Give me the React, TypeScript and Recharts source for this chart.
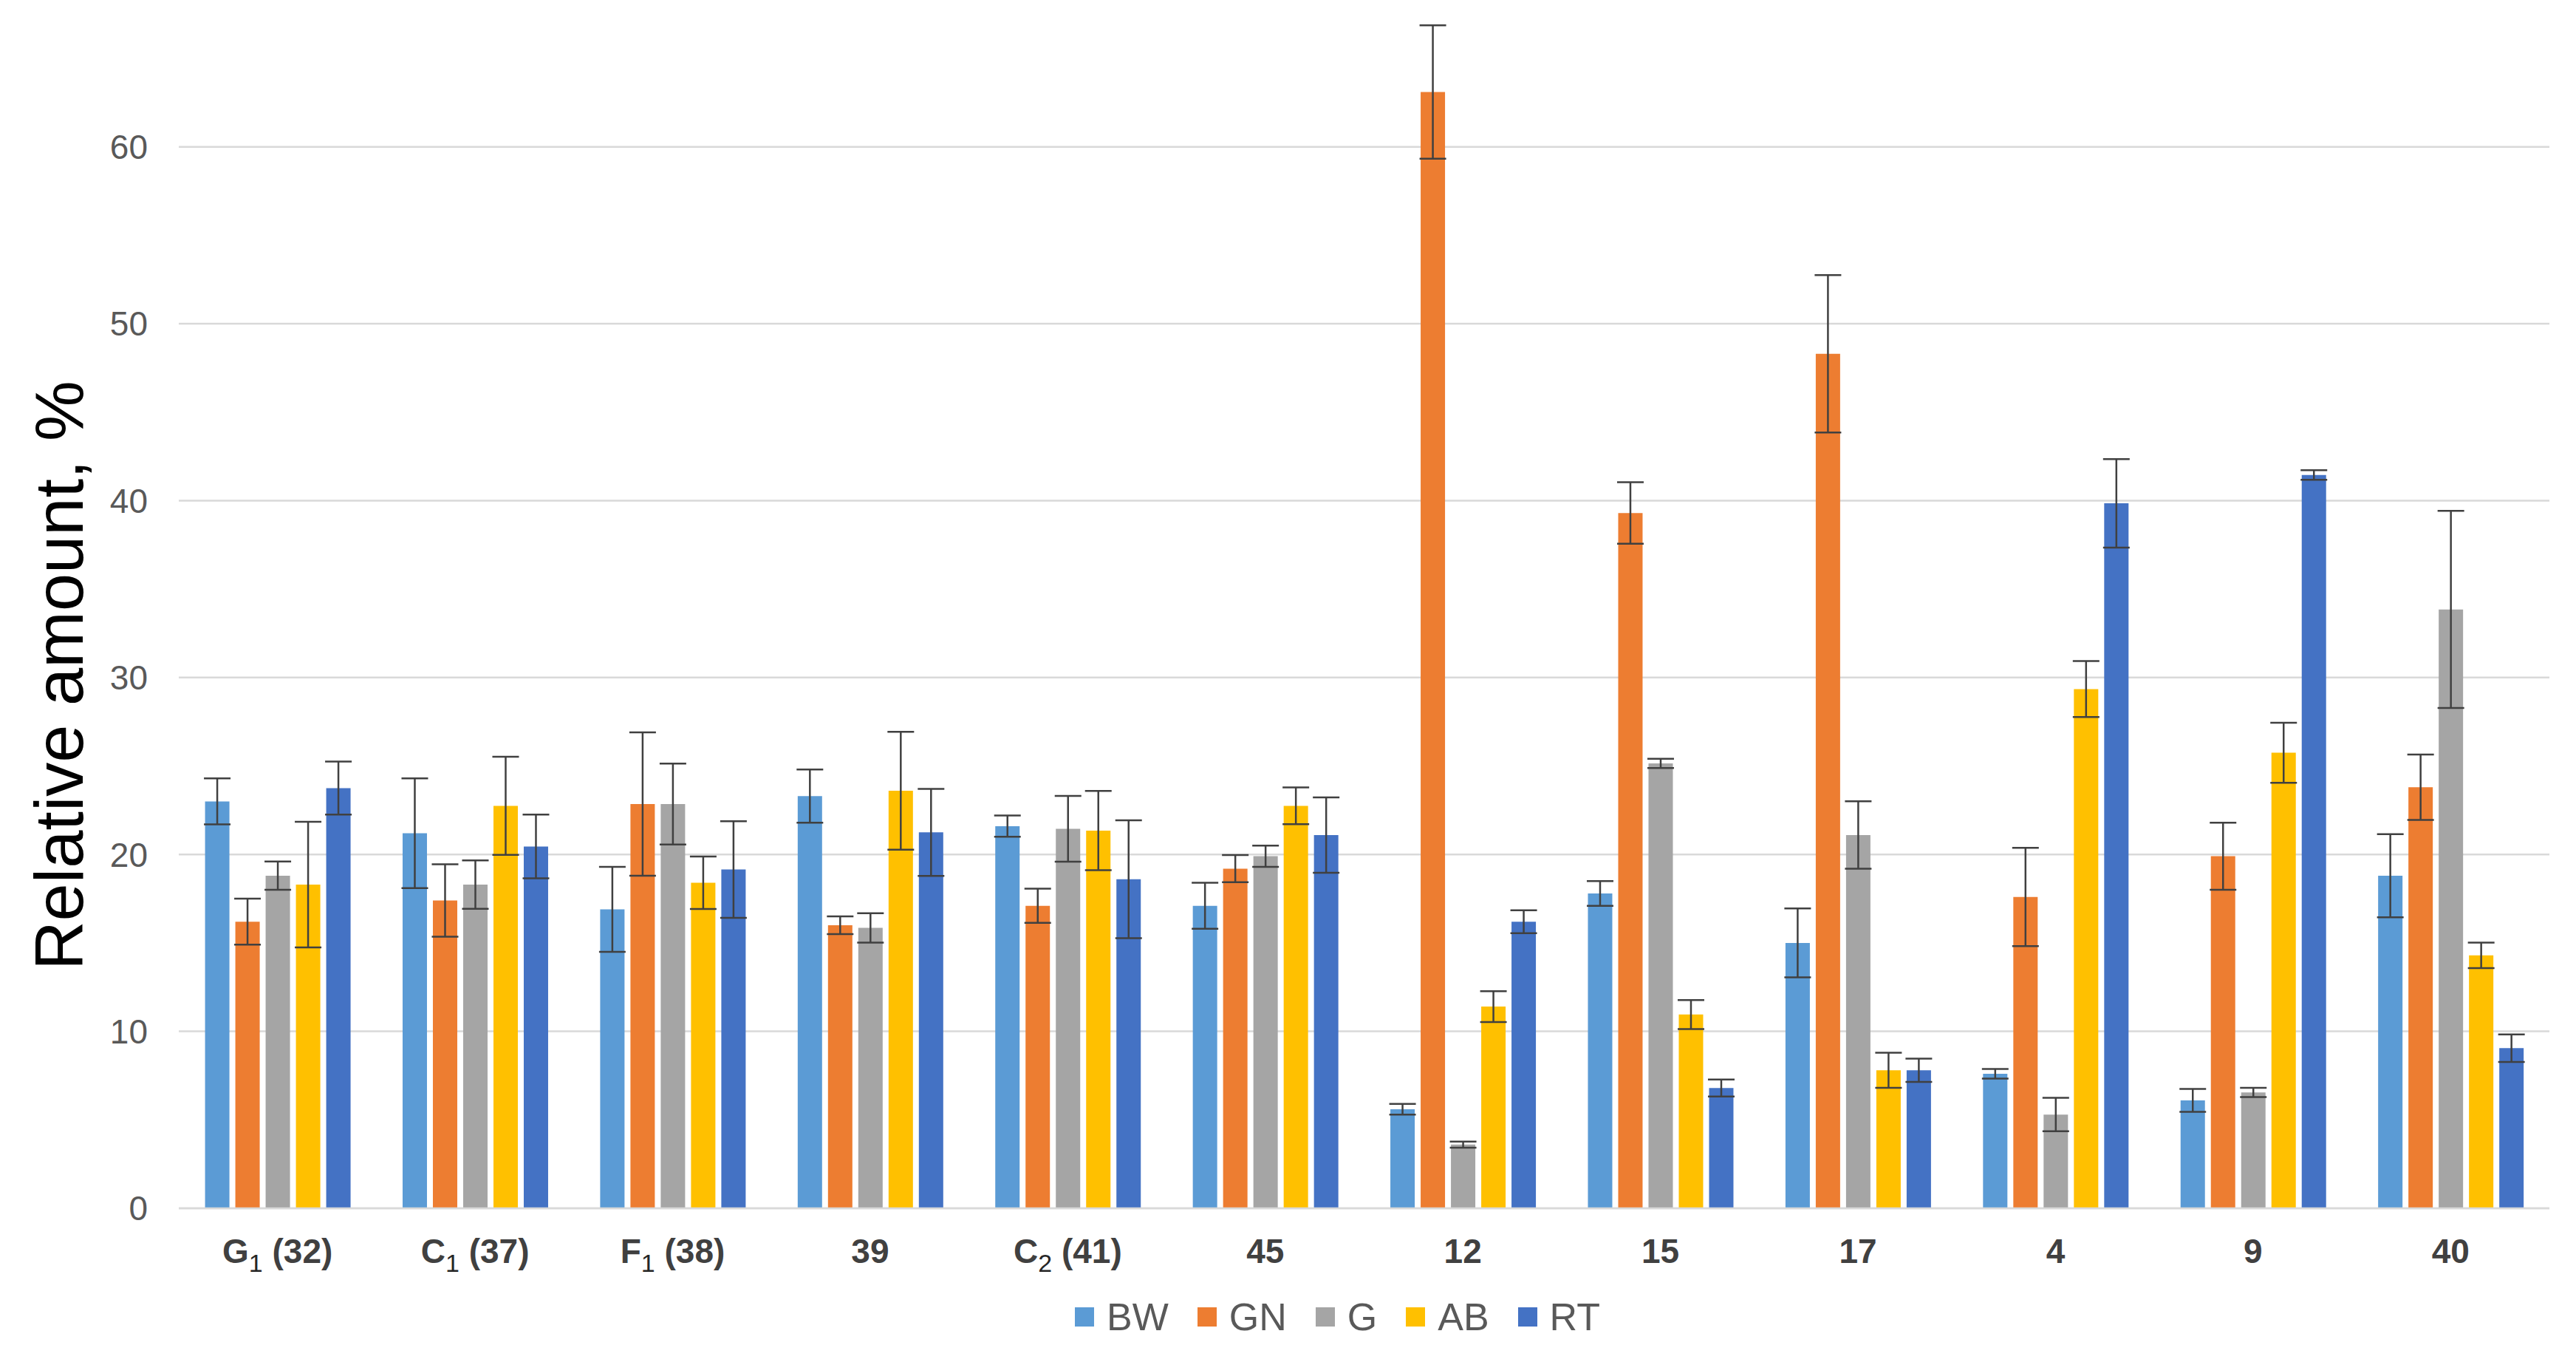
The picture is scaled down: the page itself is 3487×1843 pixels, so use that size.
import React from 'react';
import {
    BarChart,
    Bar,
    XAxis,
    YAxis,
    CartesianGrid,
    ErrorBar,
    Legend
} from "recharts"

// category labels, "_" marks a subscript
const categories = ['G_1 (32)', 'C_1 (37)', 'F_1 (38)', '39', 'C_2 (41)', '45', '12', '15', '17', '4', '9', '40'];

const BW = [23.0, 21.2, 16.9, 23.3, 21.6, 17.1, 5.6, 17.8, 15.0, 7.6, 6.1, 18.8];
const BW_err = [1.3, 3.1, 2.4, 1.5, 0.6, 1.3, 0.3, 0.7, 1.95, 0.27, 0.65, 2.35];
const GN = [16.2, 17.4, 22.85, 16.0, 17.1, 19.2, 63.1, 39.3, 48.3, 17.6, 19.9, 23.8];
const GN_err = [1.3, 2.05, 4.05, 0.5, 0.97, 0.77, 3.77, 1.74, 4.45, 2.78, 1.9, 1.85];
const G = [18.8, 18.3, 22.85, 15.85, 21.45, 19.9, 3.6, 25.15, 21.1, 5.3, 6.55, 33.85];
const G_err = [0.8, 1.37, 2.29, 0.83, 1.86, 0.6, 0.17, 0.26, 1.91, 0.95, 0.26, 5.57];
const AB = [18.3, 22.75, 18.4, 23.6, 21.35, 22.75, 11.4, 10.95, 7.8, 29.35, 25.75, 14.3];
const AB_err = [3.55, 2.77, 1.48, 3.33, 2.24, 1.04, 0.87, 0.82, 0.99, 1.58, 1.7, 0.72];
const RT = [23.75, 20.45, 19.15, 21.25, 18.6, 21.1, 16.2, 6.8, 7.8, 39.85, 41.45, 9.05];
const RT_err = [1.5, 1.8, 2.73, 2.46, 3.33, 2.13, 0.65, 0.48, 0.66, 2.5, 0.27, 0.78];

const yTicks = [0, 10, 20, 30, 40, 50, 60];

const series = [
    { key: 'BW', color: '#5B9BD5' },
    { key: 'GN', color: '#ED7D31' },
    { key: 'G', color: '#A5A5A5' },
    { key: 'AB', color: '#FFC000' },
    { key: 'RT', color: '#4472C4' },
];

const data = categories.map((name, i) => ({
    name,
    BW: BW[i], BW_err: BW_err[i],
    GN: GN[i], GN_err: GN_err[i],
    G: G[i], G_err: G_err[i],
    AB: AB[i], AB_err: AB_err[i],
    RT: RT[i], RT_err: RT_err[i],
}));

const FONT = '"Liberation Sans", Arial, sans-serif';

const CategoryTick = (props: any) => {
    const { x, y, payload } = props;
    const label: string = payload.value;
    const m = label.match(/^(.*)_(\S+)(.*)$/);
    const baseY = y + 34;
    if (!m) {
        return (
            <text x={x} y={baseY} textAnchor="middle" fontFamily={FONT} fontSize={46} fontWeight="bold" fill="#404040">
                {label}
            </text>
        );
    }
    return (
        <text x={x} y={baseY} textAnchor="middle" fontFamily={FONT} fontSize={46} fontWeight="bold" fill="#404040">
            <tspan>{m[1]}</tspan>
            <tspan fontSize={34} fontWeight="normal" fill="#262626" dy={12}>{m[2]}</tspan>
            <tspan dy={-12}>{m[3]}</tspan>
        </text>
    );
};

const YTitle = () => {
    const cx = 80;
    const cy = 914;
    return (
        <text x={cx} y={cy} transform={`rotate(-90 ${cx} ${cy})`} textAnchor="middle" dominantBaseline="central"
            fontFamily={FONT} fontSize={92} fill="#000000">
            Relative amount, %
        </text>
    );
};

const LegendContent = () => (
    <div style={{ display: 'flex', alignItems: 'center', height: 60, fontFamily: FONT, fontSize: 52, color: '#595959' }}>
        {series.map((s, i) => (
            <div key={s.key} style={{ display: 'flex', alignItems: 'center', marginRight: i < series.length - 1 ? 39 : 0 }}>
                <div style={{ width: 26, height: 26, background: s.color, marginRight: 17 }} />
                <span style={{ lineHeight: '60px' }}>{s.key}</span>
            </div>
        ))}
    </div>
);

const App: React.FC = () => {
    return (
        <div style={{ width: 3487, height: 1843, background: '#ffffff', position: 'relative' }}>
            <style>{`body{margin:0;background:#fff}`}</style>
            <BarChart
                width={3487}
                height={1843}
                data={data}
                margin={{ top: 0, right: 36, left: 0, bottom: 108 }}
                barCategoryGap="13.3%"
                barGap={8}
            >
                <CartesianGrid vertical={false} horizontalValues={yTicks} stroke="#D9D9D9" strokeWidth={2.5} />
                <XAxis
                    dataKey="name"
                    height={100}
                    interval={0}
                    tickLine={false}
                    tickMargin={34}
                    axisLine={{ stroke: '#D9D9D9', strokeWidth: 2.5 }}
                    tick={<CategoryTick />}
                />
                <YAxis
                    width={242}
                    domain={[0, 68.3]}
                    ticks={yTicks}
                    axisLine={false}
                    tickLine={false}
                    tickMargin={36}
                    tick={{ fill: '#595959', fontSize: 46, fontFamily: FONT }}
                    label={<YTitle />}
                />
                <Legend
                    verticalAlign="middle"
                    align="center"
                    content={<LegendContent />}
                    wrapperStyle={{ top: 1752, left: 1455, width: 760, height: 60 }}
                />
                {series.map((s) => (
                    <Bar key={s.key} dataKey={s.key} fill={s.color} isAnimationActive={false}>
                        <ErrorBar dataKey={`${s.key}_err`} direction="y" width={18} stroke="#404040" strokeWidth={2.5} isAnimationActive={false} />
                    </Bar>
                ))}
            </BarChart>
        </div>
    );
}

export default App;
